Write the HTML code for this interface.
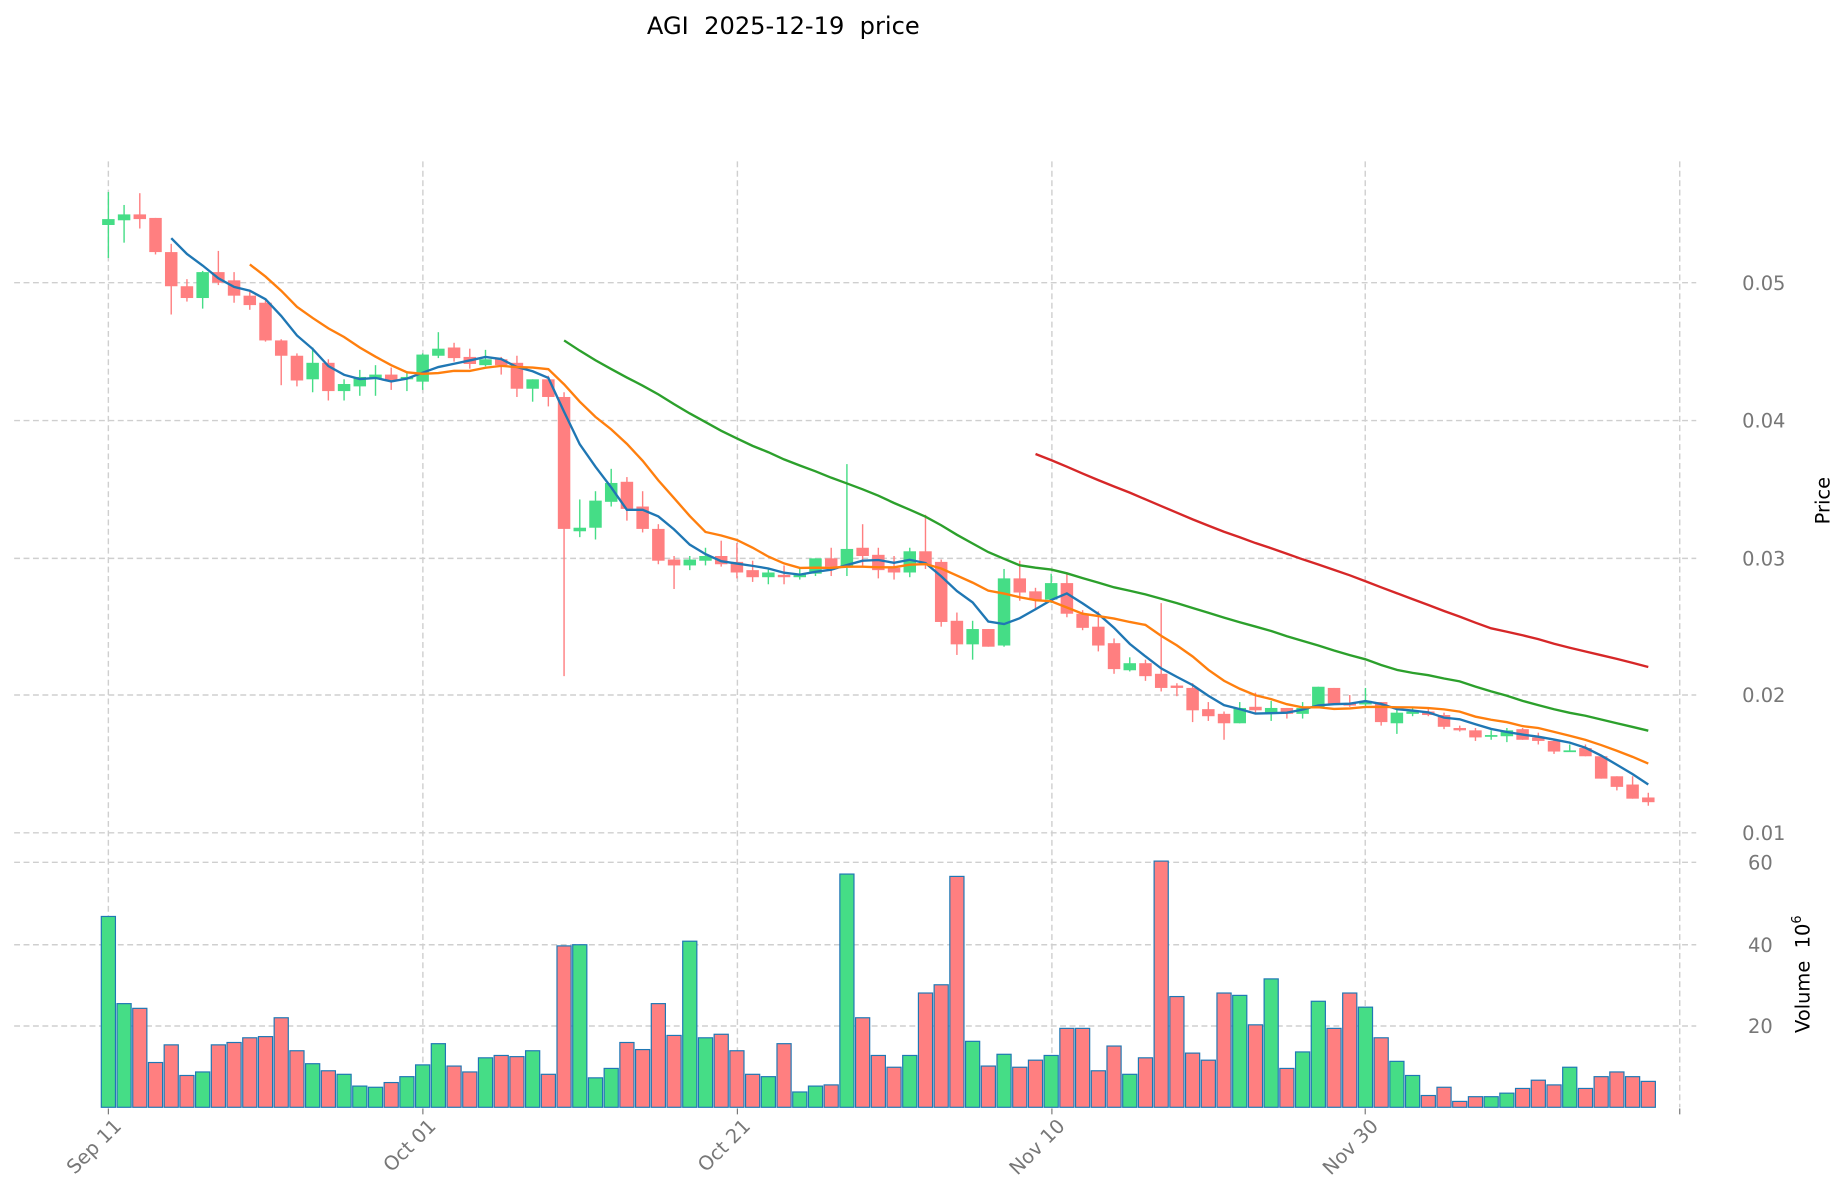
<!DOCTYPE html>
<html><head><meta charset="utf-8"><style>
html,body{margin:0;padding:0;background:#fff}
svg{display:block}
text{font-family:"DejaVu Sans","Liberation Sans",sans-serif;}
</style></head><body>
<svg id="s" width="1847" height="1202" viewBox="0 0 1568 1020.4" preserveAspectRatio="none" xmlns="http://www.w3.org/2000/svg">
<rect width="1568" height="1020.4" fill="#fff"/>
<g id="grid" stroke="#cfcfcf" stroke-width="1.2" stroke-dasharray="5,3" fill="none">
<line x1="12" x2="1440" y1="240" y2="240"/><line x1="12" x2="1440" y1="357" y2="357"/>
<line x1="12" x2="1440" y1="474" y2="474"/><line x1="12" x2="1440" y1="590" y2="590"/>
<line x1="12" x2="1440" y1="707" y2="707"/>
<line x1="12" x2="1440" y1="732" y2="732"/><line x1="12" x2="1440" y1="802" y2="802"/>
<line x1="12" x2="1440" y1="871" y2="871"/>
<line x1="92" x2="92" y1="137" y2="940"/><line x1="359" x2="359" y1="137" y2="940"/>
<line x1="626" x2="626" y1="137" y2="940"/><line x1="893" x2="893" y1="137" y2="940"/>
<line x1="1159" x2="1159" y1="137" y2="940"/><line x1="1426" x2="1426" y1="137" y2="940"/>
</g>
<g id="c"></g>
<g id="ma" fill="none" stroke-width="2"></g>
<g stroke="#777" stroke-width="1">
<line x1="92" x2="92" y1="941" y2="946"/><line x1="359" x2="359" y1="941" y2="946"/>
<line x1="626" x2="626" y1="941" y2="946"/><line x1="893" x2="893" y1="941" y2="946"/>
<line x1="1159" x2="1159" y1="941" y2="946"/><line x1="1426" x2="1426" y1="941" y2="946"/>
</g>
<g fill="#777" font-size="16.5">
<text x="1479" y="246">0.05</text><text x="1479" y="363">0.04</text>
<text x="1479" y="480">0.03</text><text x="1479" y="596">0.02</text>
<text x="1479" y="713">0.01</text>
<text x="1484" y="738">60</text><text x="1484" y="808">40</text><text x="1484" y="877">20</text>
<g text-anchor="end">
<text transform="translate(104,957) rotate(-45)">Sep 11</text>
<text transform="translate(371,957) rotate(-45)">Oct 01</text>
<text transform="translate(638,957) rotate(-45)">Oct 21</text>
<text transform="translate(905,957) rotate(-45)">Nov 10</text>
<text transform="translate(1171,957) rotate(-45)">Nov 30</text>
</g>
</g>
<text x="0" y="0" font-size="16.5" fill="#000" transform="translate(1553,425) rotate(-90)" text-anchor="middle">Price</text>
<text x="0" y="0" font-size="16.5" fill="#000" transform="translate(1536,827) rotate(-90)" text-anchor="middle" xml:space="preserve">Volume  10<tspan font-size="11" dy="-7">6</tspan></text>
<text x="665" y="29" font-size="20.5" text-anchor="middle" fill="#000" xml:space="preserve">AGI  2025-12-19  price</text>
</svg>
<script>
var D=[
['g',191,186,163,219],['g',187,182,174,206],['r',182,186,164,194],['r',185,214,185,216],['r',214,243,207,267],
['r',243,253,237,256],['g',253,231,230,262],['r',231,240,213,242],['r',238,251,231,257],['r',251,259,247,263],
['r',257,289,255,290],['r',289,302,288,327],['r',302,323,300,328],['g',322,308,295,333],['r',308,332,305,340],
['g',332,326,322,340],['g',328,320,314,336],['g',321,318,310,336],['r',318,323,312,331],['g',322,320,315,332],
['g',324,301,300,331],['g',302,296,282,304],['r',295,304,291,307],['r',303,309,296,313],['g',310,305,297,311],
['r',305,310,303,318],['r',308,330,302,337],['g',330,322,322,341],['r',322,337,319,345],['r',337,449,333,574],
['g',451,448,424,456],['g',448,425,417,458],['g',426,410,398,430],['r',409,432,405,442],['r',430,449,417,452],
['r',449,476,445,479],['r',475,480,472,500],['g',480,475,472,484],['g',476,472,465,480],['r',472,479,459,481],
['r',477,486,461,491],['r',484,490,476,494],['g',490,486,482,496],['r',488,490,480,496],['g',490,487,482,492],
['g',487,474,474,489],['r',474,481,465,489],['g',481,466,394,489],['r',465,472,445,480],['r',471,484,465,491],
['r',482,486,472,492],['g',486,468,465,490],['r',468,480,437,483],['r',477,528,475,532],['r',527,547,520,556],
['g',547,534,527,560],['r',534,549,534,549],['g',548,491,483,549],['r',491,503,476,510],['r',502,509,499,518],
['g',509,495,487,512],['r',495,521,487,524],['r',521,533,518,535],['r',532,548,519,553],['r',546,568,542,572],
['g',569,563,558,570],['r',563,574,560,578],['r',572,584,512,587],['r',582,584,580,591],['r',584,603,580,613],
['r',602,608,596,612],['r',606,614,604,628],['g',614,601,596,614],['r',600,603,588,605],['g',606,601,595,612],
['r',601,606,601,610],['g',606,601,596,610],['g',601,583,583,601],['r',584,598,584,598],['r',597,599,590,600],
['g',598,595,584,601],['r',596,613,596,616],['g',614,605,601,623],['g',606,604,601,608],['r',604,607,601,608],
['r',607,617,605,619],['r',618,620,616,621],['r',620,626,618,629],['g',625,624,620,628],['g',625,620,618,630],
['r',619,628,618,628],['r',626,629,622,632],['r',629,638,628,640],['g',638,637,632,638],['r',635,642,632,642],
['r',642,661,642,661],['r',659,668,659,671],['r',666,678,659,678],['r',677,681,673,684]];
var V=[778,852,856,902,887,913,910,887,885,881,880,864,892,903,909,912,922,923,919,914,904,886,905,910,898,896,897,892,912,803,802,915,907,885,891,852,879,799,881,878,892,912,914,886,927,922,921,742,864,896,906,896,843,836,744,884,905,895,906,900,896,873,873,909,888,912,898,731,846,894,900,843,845,870,831,907,893,850,873,843,855,881,901,913,930,923,935,931,931,928,924,917,921,906,924,914,910,914,918];
var NS="http://www.w3.org/2000/svg",c=document.getElementById('c'),m=document.getElementById('ma');
function el(t,a,p){var e=document.createElementNS(NS,t);for(var k in a)e.setAttribute(k,a[k]);p.appendChild(e);return e;}
var G='#45dd86',R='#ff7f80';
D.forEach(function(d,i){var x=92+13.34*i,col=d[0]=='g'?G:R;
 el('line',{x1:x,x2:x,y1:d[3],y2:d[4],stroke:col,'stroke-width':1.2},c);
 var t=Math.min(d[1],d[2]),h=Math.max(Math.abs(d[1]-d[2]),1.5);
 el('rect',{x:x-5.3,y:t,width:10.6,height:h,fill:col},c);
 el('rect',{x:x-6,y:V[i],width:12,height:940-V[i],fill:col,stroke:'#1f77b4','stroke-width':1},c);
});
[[5,'#1f77b4'],[10,'#ff7f0e'],[30,'#2ca02c'],[60,'#d62728']].forEach(function(p){
 var n=p[0],pts=[];for(var i=n-1;i<D.length;i++){var s=0;for(var j=i-n+1;j<=i;j++)s+=D[j][2];pts.push((92+13.34*i).toFixed(1)+','+(s/n).toFixed(1));}
 el('polyline',{points:pts.join(' '),stroke:p[1]},m);
});
</script>
</body></html>
